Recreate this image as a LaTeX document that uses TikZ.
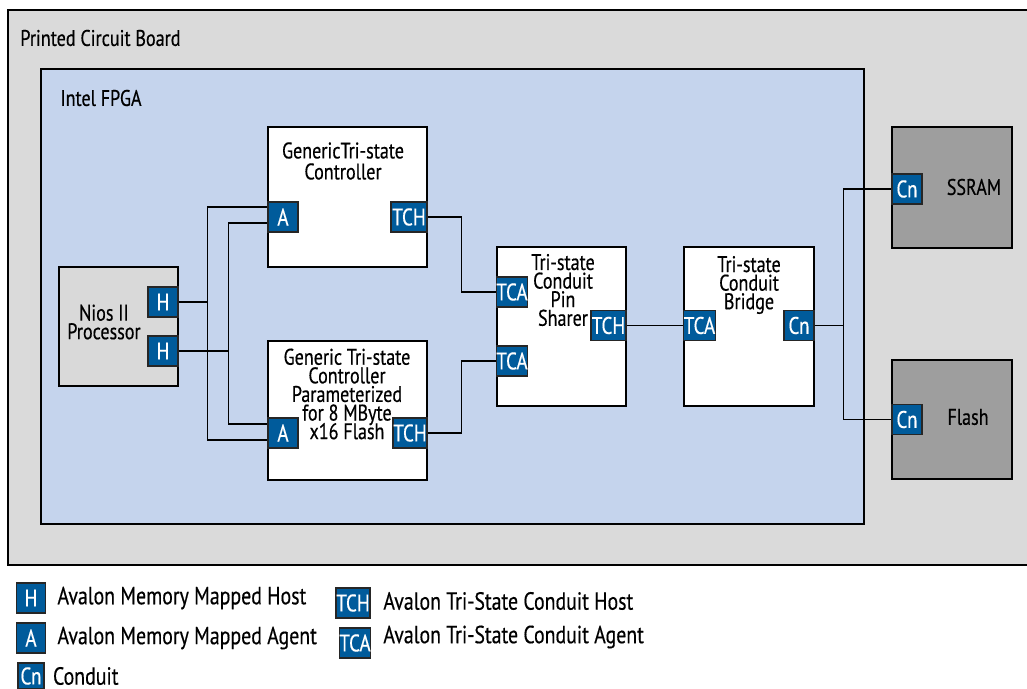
\documentclass[tikz,border=0pt]{standalone}
\usepackage{fontspec}
\setmainfont{PT Sans}[FakeStretch=0.8,FakeBold=0.4]
\usepackage{tikz}
\usetikzlibrary{positioning}
\definecolor{pcbc}{RGB}{218,218,218}
\definecolor{fpgac}{RGB}{197,212,237}
\definecolor{portc}{RGB}{0,91,155}
\definecolor{niosc}{RGB}{217,217,217}
\definecolor{memc}{RGB}{158,158,158}
\lineskiplimit=-20pt\relax

\begin{document}
\begin{tikzpicture}[x=0.5pt,y=-0.5pt,
  blk/.style={draw,line width=1pt,inner sep=0pt},
  port/.style={draw=black!85,line width=0.6pt,fill=portc,text=white,font=\fontsize{12}{12}\selectfont,inner sep=0pt,minimum width=15pt,minimum height=15pt},
  wire/.style={line width=0.7pt},
  txt/.style={font=\fontsize{11.3}{9.3}\selectfont,align=center,inner sep=0pt},
  lgtxt/.style={font=\fontsize{12.4}{12}\selectfont,inner sep=0pt,anchor=west}]
  \useasboundingbox (0,0) rectangle (1027,689);
  % board and fpga
  \node[draw,line width=0.6pt,fill=pcbc,minimum width=517pt,minimum height=277.5pt] (pcb) at (525,287.5) {};
  \node[txt,anchor=west] (pcbT) at (20,38) {Printed Circuit Board};
  \node[draw,line width=0.8pt,fill=fpgac,minimum width=411.5pt,minimum height=227.5pt] (fpga) at (452.5,296.5) {};
  \node[txt,anchor=west] (fpgaT) at (60,98) {Intel FPGA};
  % blocks
  \node[blk,fill=niosc,minimum width=59.5pt,minimum height=59.5pt] (nios) at (118.5,326.5) {};
  \node[txt] (niosT) at (104,322) {Nios II\\Processor};
  \node[blk,fill=white,minimum width=79.5pt,minimum height=70pt] (gtc) at (347.5,197) {};
  \node[txt,font=\fontsize{11.3}{10.5}\selectfont] (gtcT) at (343,161) {GenericTri-state\\Controller};
  \node[blk,fill=white,minimum width=79.5pt,minimum height=69.5pt] (gtcf) at (347.5,410.5) {};
  \node[txt] (gtcfT) at (347,394) {Generic Tri-state\\Controller\\Parameterized\\for 8 MByte\\x16 Flash};
  \node[blk,fill=white,minimum width=64.5pt,minimum height=79.5pt] (pins) at (561.5,326.5) {};
  \node[txt] (pinsT) at (563,290) {Tri-state\\Conduit\\Pin\\Sharer};
  \node[blk,fill=white,minimum width=65pt,minimum height=79.5pt] (bridge) at (749,326.5) {};
  \node[txt] (bridgeT) at (749,285) {Tri-state\\Conduit\\Bridge};
  \node[blk,fill=memc,minimum width=60pt,minimum height=60.5pt] (ssram) at (952,187.5) {};
  \node[txt] (ssramT) at (974,187) {SSRAM};
  \node[blk,fill=memc,minimum width=60pt,minimum height=59.5pt] (flash) at (952,419.5) {};
  \node[txt] (flashT) at (968,417) {Flash};
  % ports
  \node[port] (niosH1) at (163,302) {H};
  \node[port] (niosH2) at (163,351) {H};
  \node[port] (gtcA) at (283,217) {A};
  \node[port,minimum width=18pt] (gtcTCH) at (409,217) {TCH};
  \node[port] (gtcfA) at (283,433) {A};
  \node[port,minimum width=17pt] (gtcfTCH) at (410,433) {TCH};
  \node[port] (pinsTCA1) at (512,292) {TCA};
  \node[port] (pinsTCA2) at (512,361) {TCA};
  \node[port,minimum width=17.5pt] (pinsTCH) at (608.5,325.5) {TCH};
  \node[port,minimum width=15.5pt] (brTCA) at (699.5,325.5) {TCA};
  \node[port] (brCn) at (799,325.5) {Cn};
  \node[port] (ssCn) at (907,189) {Cn};
  \node[port] (flCn) at (907,419.5) {Cn};
  % wires
  \draw[wire] (niosH1.east) -- ++(29,0) |- ([yshift=5pt]gtcA.west);
  \draw[wire] (niosH1.east) -- ++(29,0) |- ([yshift=-3.5pt]gtcfA.west);
  \draw[wire] (niosH2.east) -- ++(50,0) |- ([yshift=-3pt]gtcA.west);
  \draw[wire] (niosH2.east) -- ++(50,0) |- ([yshift=4.5pt]gtcfA.west);
  \draw[wire] (gtcTCH.east) -- ++(34,0) |- (pinsTCA1.west);
  \draw[wire] (gtcfTCH.east) -- ++(34,0) |- (pinsTCA2.west);
  \draw[wire] (pinsTCH.east) -- (brTCA.west);
  \draw[wire] (brCn.east) -- ++(29,0) |- (ssCn.west);
  \draw[wire] (brCn.east) -- ++(29,0) |- (flCn.west);
  % legend
  \node[port,minimum width=14.5pt] (lgH) at (31,598) {H};
  \node[lgtxt,right=5.5pt of lgH] (lgHT) {Avalon Memory Mapped Host};
  \node[port,minimum width=14.5pt] (lgA) at (31,638) {A};
  \node[lgtxt,right=5.5pt of lgA] (lgAT) {Avalon Memory Mapped Agent};
  \node[port,minimum width=13pt,minimum height=13pt] (lgCn) at (31,676) {Cn};
  \node[lgtxt,right=4pt of lgCn] (lgCnT) {Conduit};
  \node[port,minimum width=17pt] (lgTCH) at (353,603) {TCH};
  \node[lgtxt] (lgTCHT) at (383,601) {Avalon Tri-State Conduit Host};
  \node[port,minimum width=15.5pt] (lgTCA) at (355,643) {TCA};
  \node[lgtxt] (lgTCAT) at (383,637) {Avalon Tri-State Conduit Agent};
\end{tikzpicture}
\end{document}
